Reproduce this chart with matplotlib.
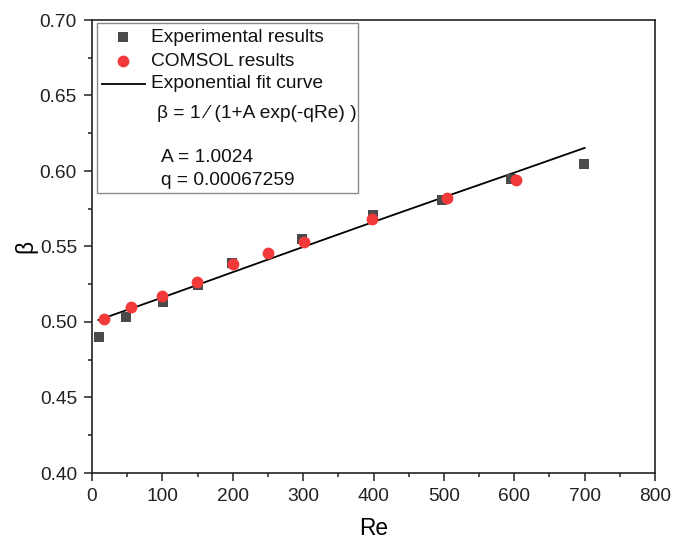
import matplotlib
matplotlib.use("Agg")
import matplotlib.pyplot as plt
from matplotlib.patches import Rectangle
from matplotlib.lines import Line2D
from matplotlib.ticker import MultipleLocator

plt.rcParams['font.family'] = ['Liberation Sans', 'DejaVu Sans']

exp_re = [10, 49, 101, 151, 199, 298, 399, 497, 596, 699]
exp_beta = [0.490, 0.5035, 0.513, 0.5245, 0.539, 0.555, 0.571, 0.581, 0.595, 0.6044]

com_re = [17, 55, 100, 149, 200, 250, 301, 398, 504, 602]
com_beta = [0.502, 0.510, 0.517, 0.5267, 0.5384, 0.5455, 0.5528, 0.568, 0.582, 0.594]

fit_re = [9, 100, 200, 300, 400, 500, 600, 700]
fit_beta = [0.5013, 0.5162, 0.5330, 0.5497, 0.5663, 0.5827, 0.5989, 0.6153]

x_ticks = [0, 100, 200, 300, 400, 500, 600, 700, 800]
y_ticks = [0.40, 0.45, 0.50, 0.55, 0.60, 0.65, 0.70]

W, H = 686, 543
fig = plt.figure(figsize=(W / 100, H / 100), dpi=100)
L, R, T, B = 92, 655, 20, 473
ax = fig.add_axes([L / W, 1 - B / H, (R - L) / W, (B - T) / H])

SQ_C = '#4a4a4a'
CI_C = '#f23a3a'
ax.plot(fit_re, fit_beta, color='black', lw=1.3, zorder=2)
ax.plot(exp_re, exp_beta, 's', color=SQ_C, ms=7, mew=0, zorder=3)
ax.plot(com_re, com_beta, 'o', color=CI_C, ms=8.5, mew=0, zorder=4)

ax.set_xlim(0, 800)
ax.set_ylim(0.40, 0.70)
ax.set_xticks(x_ticks)
ax.set_yticks(y_ticks)
ax.set_yticklabels([f"{v:.2f}" for v in y_ticks])
ax.xaxis.set_minor_locator(MultipleLocator(50))
ax.yaxis.set_minor_locator(MultipleLocator(0.025))
ax.tick_params(axis='both', which='major', direction='out', length=5.8, width=1.1,
               labelsize=13.8, pad=5, top=False, right=False, colors='#222222')
ax.tick_params(axis='both', which='minor', direction='out', length=3, width=1.1,
               top=False, right=False, colors='#222222')
for s in ax.spines.values():
    s.set_linewidth(1.2)
    s.set_color('#222222')

ax.set_xlabel('Re', fontsize=16.3, labelpad=8.5)
ax.set_ylabel('β', fontsize=16.3, labelpad=2)


def fp(x, y):
    return (x / W, 1 - y / H)


# Legend box (drawn in figure pixel layout)
x0, y0 = fp(97, 193)
fig.add_artist(Rectangle((x0, y0), (357.5 - 97) / W, (193 - 23) / H,
                         transform=fig.transFigure, facecolor='white',
                         edgecolor='#8a8a8a', lw=1.0, zorder=5))
fig.add_artist(Line2D([fp(123, 37)[0]], [fp(123, 37)[1]], marker='s', color=SQ_C,
                      ms=7, mew=0, transform=fig.transFigure, zorder=6))
fig.add_artist(Line2D([fp(123, 61)[0]], [fp(123, 61)[1]], marker='o', color=CI_C,
                      ms=8.5, mew=0, transform=fig.transFigure, zorder=6))
fig.add_artist(Line2D([fp(102, 84)[0], fp(145, 84)[0]], [fp(102, 84)[1], fp(145, 84)[1]],
                      color='black', lw=1.3, transform=fig.transFigure, zorder=6))

legend_texts = [
    ('Experimental results', 151, 37),
    ('COMSOL results', 151, 61),
    ('Exponential fit curve', 151, 84),
    ('β = 1 ⁄ (1+A exp(-qRe) )', 157, 113),
    ('A = 1.0024', 161, 158),
    ('q = 0.00067259', 161, 181),
]
for s, x, y in legend_texts:
    fx, fy = fp(x, y)
    fig.text(fx, fy, s, fontsize=13.8, ha='left', va='center', color='#111111', zorder=7)

fig.savefig('out.png', dpi=100)
